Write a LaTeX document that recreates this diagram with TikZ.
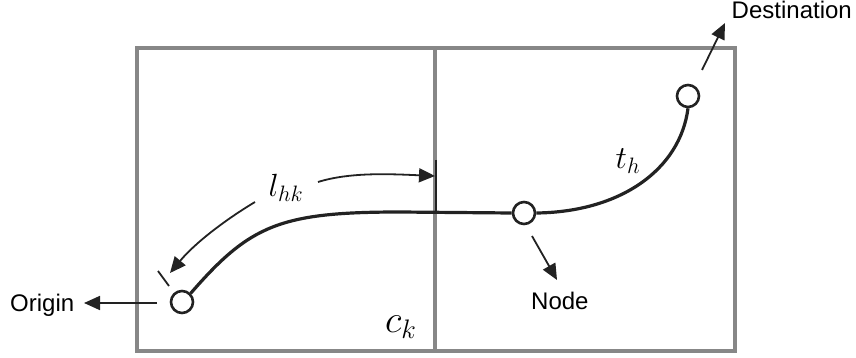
\documentclass[tikz,border=0pt]{standalone}
\usepackage{fontspec}
\setmainfont{Liberation Sans}
\usetikzlibrary{arrows.meta}
\definecolor{boxgray}{HTML}{878787}
\definecolor{ink}{HTML}{222222}
\begin{document}
\begin{tikzpicture}[x=1pt,y=-1pt,
  frame/.style={draw=boxgray,line width=3.2pt},
  pathline/.style={draw=ink,line width=3.2pt},
  stop/.style={circle,draw=ink,line width=2.6pt,fill=white,minimum size=22pt,inner sep=0pt},
  pointer/.style={draw=ink,line width=1.8pt,-{Triangle[length=16pt,width=14pt]}},
  tickline/.style={draw=ink,line width=1.8pt},
  lbl/.style={font=\fontsize{24}{28}\selectfont,inner sep=0pt},
  mlbl/.style={font=\fontsize{24}{28}\selectfont,inner sep=0pt,scale=1.29},
  bigmlbl/.style={font=\fontsize{24}{28}\selectfont,inner sep=0pt,scale=1.55}]
\useasboundingbox (0,0) rectangle (856,358);
% frame
\draw[frame] (137,48) rectangle (735,351);
\draw[frame] (435,48) -- (435,351);
% stops
\node[stop] (O) at (182,302) {};
\node[stop] (N) at (524,213) {};
\node[stop] (D) at (688,96) {};
% main path
\draw[pathline] (O.45) .. controls (250,225) and (280,212) .. (400,212) -- (N.west);
\draw[pathline] (N.east) .. controls (620,212) and (680,170) .. (D.south);
% ticks
\coordinate (tkA) at (436,160);
\coordinate (tkB) at (436,212);
\draw[tickline] (tkA) -- (tkB);
\coordinate (toA) at (158,271);
\coordinate (toB) at (169,286);
\draw[tickline] (toA) -- (toB);
% l_hk arrows
\node[mlbl] (L) at (286,188) {$l_{hk}$};
\coordinate (la1) at (318,182);
\coordinate (la2) at (435,176);
\draw[pointer] (la1) .. controls (350,172) and (390,174) .. (la2);
\coordinate (lb1) at (255,202);
\coordinate (lb2) at (170,273);
\draw[pointer] (lb1) .. controls (225,220) and (195,243) .. (lb2);
% labels
\node[mlbl] (T) at (628,161) {$t_{h}$};
\node[bigmlbl] (C) at (401,327) {$c_{k}$};
\node[lbl,anchor=base west] (OL) at (10,311) {Origin};
\node[lbl,anchor=base west] (NL) at (531,309) {Node};
\node[lbl,anchor=base east] (DL) at (852,19) {Destination};
% pointers
\coordinate (oa1) at (157,303);
\coordinate (oa2) at (84,303);
\draw[pointer] (oa1) -- (oa2);
\coordinate (na1) at (532,236);
\coordinate (na2) at (557,280);
\draw[pointer] (na1) -- (na2);
\coordinate (da1) at (702,70);
\coordinate (da2) at (725,23);
\draw[pointer] (da1) -- (da2);
\end{tikzpicture}
\end{document}
